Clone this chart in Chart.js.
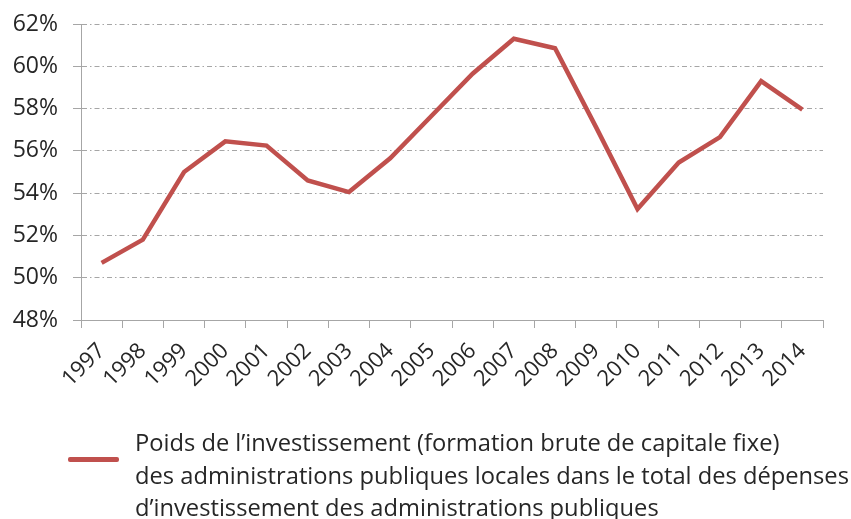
<!DOCTYPE html>
<html lang="fr">
<head>
    <meta charset="UTF-8">
    <title>Poids de l'investissement local</title>
    <script src="https://cdn.jsdelivr.net/npm/chart.js"></script>
    <style>
        body { margin: 0; padding: 0; background: #fff; font-family: "Open Sans", sans-serif; }
        .wrap { position: relative; width: 851px; height: 519px; overflow: hidden; }
        #chart { position: absolute; left: 0; top: 0; }
        .legend { position: absolute; left: 68px; top: 426px; }
        .legend .swatch { position: absolute; left: 0; top: 31px; width: 51px; height: 5px; background: #c0504d; border-radius: 2px; }
        .legend .text { position: absolute; left: 67px; top: 0; width: 780px; font-size: 23.7px; line-height: 32.5px; color: #262626; white-space: nowrap; }
    </style>
</head>
<body>
    <div class="wrap">
        <canvas id="chart" width="851" height="519"></canvas>
        <div class="legend">
            <div class="swatch"></div>
            <div class="text">Poids de l’investissement (formation brute de capitale fixe)<br>des administrations publiques locales dans le total des dépenses<br>d’investissement des administrations publiques</div>
        </div>
    </div>

    <script>
        const years = ['1997', '1998', '1999', '2000', '2001', '2002', '2003', '2004', '2005',
                       '2006', '2007', '2008', '2009', '2010', '2011', '2012', '2013', '2014'];
        const shareLocal = [50.7, 51.8, 55.0, 56.45, 56.25, 54.6, 54.05, 55.65, 57.65,
                            59.65, 61.3, 60.85, 57.1, 53.25, 55.45, 56.65, 59.3, 57.95];
        const yTicks = [48, 50, 52, 54, 56, 58, 60, 62];

        const axisGray = '#a6a6a6';
        const textColor = '#262626';

        const ctx = document.getElementById('chart').getContext('2d');
        new Chart(ctx, {
            type: 'line',
            data: {
                labels: years,
                datasets: [{
                    label: 'Poids de l’investissement',
                    data: shareLocal,
                    borderColor: '#c0504d',
                    borderWidth: 4.5,
                    pointRadius: 0,
                    tension: 0,
                    fill: false
                }]
            },
            options: {
                responsive: false,
                animation: false,
                layout: { padding: { top: 24, right: 28, left: 0, bottom: 0 } },
                plugins: {
                    legend: { display: false },
                    tooltip: { enabled: false }
                },
                scales: {
                    x: {
                        offset: true,
                        grid: {
                            offset: true,
                            drawOnChartArea: false,
                            drawTicks: true,
                            tickLength: 8,
                            color: axisGray
                        },
                        border: { color: axisGray, width: 1 },
                        ticks: {
                            autoSkip: false,
                            minRotation: 45,
                            maxRotation: 45,
                            padding: 10,
                            color: textColor,
                            font: { family: 'Open Sans', size: 22 }
                        },
                        afterFit: scale => { scale.height = 199; }
                    },
                    y: {
                        min: 48,
                        max: 62,
                        afterBuildTicks: scale => { scale.ticks = yTicks.map(v => ({ value: v })); },
                        grid: {
                            color: axisGray,
                            lineWidth: 1,
                            tickLength: 8,
                            tickBorderDash: [],
                            tickColor: axisGray
                        },
                        border: { color: axisGray, width: 1, dash: [5, 3, 1.5, 3] },
                        ticks: {
                            padding: 15,
                            color: textColor,
                            font: { family: 'Open Sans', size: 23 },
                            callback: v => v + '%'
                        },
                        afterFit: scale => {
                            scale.width = 81;
                            // tick padding would otherwise push the plot top down
                            scale.paddingTop = 10;
                            scale.paddingBottom = 10;
                        }
                    }
                }
            }
        });
    </script>
</body>
</html>
